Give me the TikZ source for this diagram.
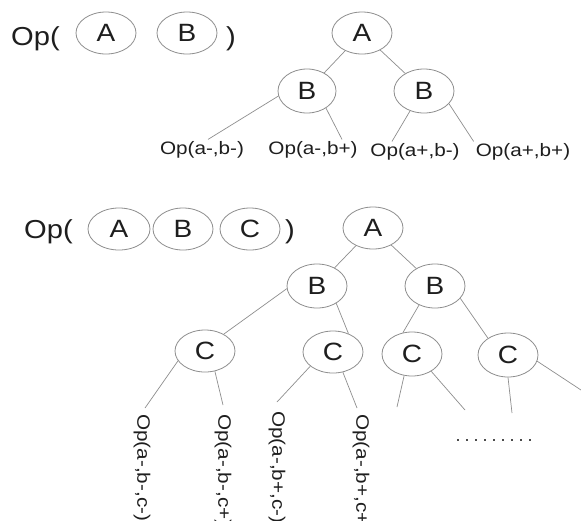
\documentclass[tikz,border=0pt]{standalone}
\usepackage{fontspec}
\usepackage{graphicx}
\setmainfont{Liberation Sans}
\usetikzlibrary{shapes.geometric}
\definecolor{edgegray}{HTML}{8E8E8E}
\definecolor{inkc}{HTML}{1E1E1E}
\tikzset{
  oval/.style={draw=edgegray, line width=0.8pt, ellipse, inner sep=0pt,
    minimum width=60pt, minimum height=42pt, text=inkc,
    font=\fontsize{25}{25}\selectfont},
  bigtxt/.style={text=inkc, inner sep=0pt, font=\fontsize{26}{26}\selectfont},
  leaf/.style={text=inkc, inner sep=2pt, font=\fontsize{18}{18}\selectfont},
  conn/.style={draw=edgegray, line width=0.7pt},
}
\newcommand{\wide}[1]{\scalebox{1.12}[1]{#1}}
\newcommand{\wleaf}[1]{\scalebox{1.15}[1]{#1}}
\begin{document}
\begin{tikzpicture}[x=1pt,y=-1pt]
\useasboundingbox (0,0) rectangle (581,520);
\clip (0,0) rectangle (581,520);
\fill[white] (0,0) rectangle (581,520);

% ---------- top: Op( A B ) ----------
\node[bigtxt, anchor=base west] (op1) at (11,45) {\wide{Op(}};
\node[oval] (ia) at (106,33) {\wide{A}};
\node[oval] (ib) at (187,33) {\wide{B}};
\node[bigtxt, anchor=base west] (cp1) at (226,45) {\wide{)}};

\node[oval] (ta) at (362,33) {\wide{A}};
\node[oval, minimum height=44pt, minimum width=58pt] (tbl) at (307,91) {\wide{B}};
\node[oval, minimum height=44pt] (tbr) at (424,91) {\wide{B}};

\node[leaf] (l1) at (202,150) {\wleaf{Op(a-,b-)}};
\node[leaf] (l2) at (313,150) {\wleaf{Op(a-,b+)}};
\node[leaf] (l3) at (415,152) {\wleaf{Op(a+,b-)}};
\node[leaf] (l4) at (523,152) {\wleaf{Op(a+,b+)}};

\draw[conn] (ta) -- (tbl);
\draw[conn] (ta) -- (tbr);
\draw[conn] (tbl.190) -- ([xshift=6pt]l1.north);
\draw[conn] (tbl.318) -- ([xshift=29pt]l2.north);
\draw[conn] (tbr.235) -- ([xshift=-23pt]l3.north);
\draw[conn] (tbr.333) -- (l4.north west);

% ---------- bottom: Op( A B C ) ----------
\node[bigtxt, anchor=base west] (op2) at (24,238) {\wide{Op(}};
\node[oval, minimum width=62pt] (ja) at (119,229) {\wide{A}};
\node[oval] (jb) at (183,229) {\wide{B}};
\node[oval] (jc) at (250,229) {\wide{C}};
\node[bigtxt, anchor=base west] (cp2) at (285,238) {\wide{)}};

\node[oval] (ba) at (373,228) {\wide{A}};
\node[oval, minimum height=44pt] (bbl) at (317,286) {\wide{B}};
\node[oval, minimum height=44pt] (bbr) at (435,286) {\wide{B}};

\node[oval] (c1) at (205,351) {\wide{C}};
\node[oval] (c2) at (333,352) {\wide{C}};
\node[oval, minimum height=44pt] (c3) at (412,354) {\wide{C}};
\node[oval, minimum height=44pt] (c4) at (508,355) {\wide{C}};

\draw[conn] (ba) -- (bbl);
\draw[conn] (ba) -- (bbr);
\draw[conn] (bbl.185) -- (c1.42);
\draw[conn] (bbl.318) -- (c2.50);
\draw[conn] (bbr.230) -- (c3.113);
\draw[conn] (bbr.334) -- (c4.140);

\node[leaf, rotate=-90, anchor=west] (r1) at (142,412) {\wleaf{Op(a-,b-,c-)}};
\node[leaf, rotate=-90, anchor=west] (r2) at (223,412) {\wleaf{Op(a-,b-,c+)}};
\node[leaf, rotate=-90, anchor=west] (r3) at (277,409) {\wleaf{Op(a-,b+,c-)}};
\node[leaf, rotate=-90, anchor=west] (r4) at (361,412) {\wleaf{Op(a-,b+,c+)}};

\draw[conn] (c1.200) -- ([xshift=3pt,yshift=4pt]r1.west);
\draw[conn] (c1.296) -- ([yshift=7pt]r2.west);
\draw[conn] (c2.212) -- ([yshift=7pt]r3.west);
\draw[conn] (c2.296) -- ([xshift=-4pt,yshift=4pt]r4.west);

\coordinate (e1) at (397,407);
\coordinate (e2) at (465,410);
\coordinate (e3) at (512,413);
\coordinate (e4) at (581,390);
\draw[conn] (c3.250) -- (e1);
\draw[conn] (c3.318) -- (e2);
\draw[conn] (c4.south) -- (e3);
\draw[conn] (c4.348) -- (e4);

% dotted continuation
\foreach \i in {0,...,8}
  \fill[inkc!80] (457+9*\i, 439) rectangle ++(2,2);
\end{tikzpicture}
\end{document}
